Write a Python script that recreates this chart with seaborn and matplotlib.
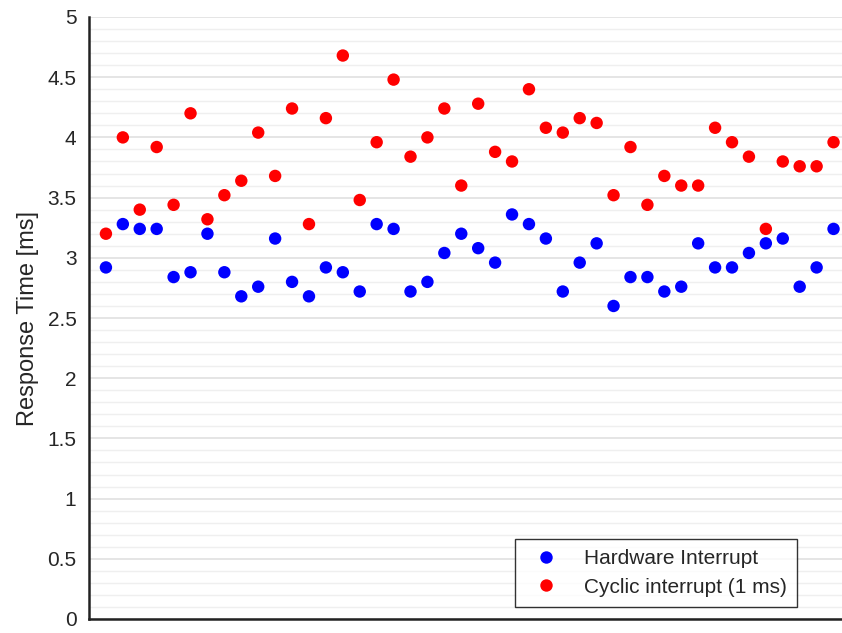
import matplotlib
matplotlib.use("Agg")
import matplotlib.pyplot as plt
import pandas as pd
import numpy as np
import seaborn as sns
from matplotlib.ticker import MultipleLocator

# Datos
muestra = list(range(1, 45))
hardware = [2.92, 3.28, 3.24, 3.24, 2.84, 2.88, 3.20, 2.88, 2.68, 2.76,
            3.16, 2.80, 2.68, 2.92, 2.88, 2.72, 3.28, 3.24, 2.72, 2.80,
            3.04, 3.20, 3.08, 2.96, 3.36, 3.28, 3.16, 2.72, 2.96, 3.12,
            2.60, 2.84, 2.84, 2.72, 2.76, 3.12, 2.92, 2.92, 3.04, 3.12,
            3.16, 2.76, 2.92, 3.24]
ciclico = [3.20, 4.00, 3.40, 3.92, 3.44, 4.20, 3.32, 3.52, 3.64, 4.04,
           3.68, 4.24, 3.28, 4.16, 4.68, 3.48, 3.96, 4.48, 3.84, 4.00,
           4.24, 3.60, 4.28, 3.88, 3.80, 4.40, 4.08, 4.04, 4.16, 4.12,
           3.52, 3.92, 3.44, 3.68, 3.60, 3.60, 4.08, 3.96, 3.84, 3.24,
           3.80, 3.76, 3.76, 3.96]
series = ["Hardware Interrupt", "Cyclic interrupt (1 ms)"]

df = pd.DataFrame({
    "muestra": muestra * 2,
    "tiempo": hardware + ciclico,
    "serie": [series[0]] * len(hardware) + [series[1]] * len(ciclico),
})

sns.set_style("white")
plt.rcParams['font.family'] = ['Liberation Sans', 'DejaVu Sans']

fig = plt.figure(figsize=(8.42, 6.33), dpi=100)
ax = fig.add_axes([89 / 842, 14 / 633, 1 - 89 / 842, (619 - 17) / 633])

sns.scatterplot(data=df, x="muestra", y="tiempo", hue="serie",
                palette={series[0]: "#0000ff", series[1]: "#ff0000"},
                s=80, edgecolor="none", ax=ax, zorder=3)

ax.set_xlim(0, 44.5)
ax.set_ylim(0, 5)
ax.yaxis.set_major_locator(MultipleLocator(0.5))
ax.yaxis.set_minor_locator(MultipleLocator(0.1))
ax.yaxis.set_major_formatter(plt.FuncFormatter(lambda v, p: f"{v:g}"))
ax.set_xticks([])
ax.grid(which="major", axis="y", color="#e0e0e0", linewidth=1.2)
ax.grid(which="minor", axis="y", color="#efefef", linewidth=1.0)
ax.set_axisbelow(True)

for lado in ["top", "right"]:
    ax.spines[lado].set_visible(False)
for lado in ["left", "bottom"]:
    ax.spines[lado].set_linewidth(1.8)
    ax.spines[lado].set_color("#222222")

ax.tick_params(axis="y", which="major", direction="out", length=5, width=1.8,
               color="#222222", labelsize=15, pad=4)
ax.tick_params(axis="y", which="minor", length=0)
ax.set_xlabel("")
ax.set_ylabel("Response Time [ms]", fontsize=17, labelpad=6)

leg = ax.legend(loc="lower right", bbox_to_anchor=((797 - 89) / 753, 12 / 602),
                borderaxespad=0, frameon=True, fancybox=False, fontsize=15,
                markerscale=1.0, handletextpad=0.8, borderpad=0.5,
                labelspacing=0.45)
leg.get_frame().set_edgecolor("black")
leg.get_frame().set_linewidth(1.0)

plt.savefig("out.png", dpi=100)
